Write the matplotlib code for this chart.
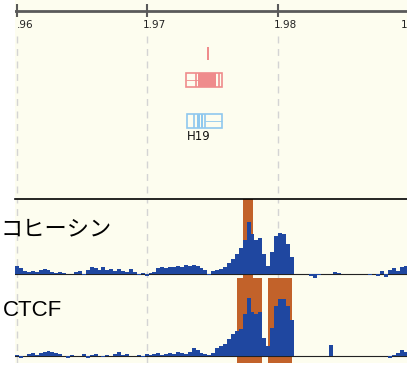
import numpy as np
import matplotlib.pyplot as plt
from matplotlib.patches import Rectangle

# genomic window (Mb) and ruler
x_min, x_max = 1.959885, 1.989866
ruler_ticks = [1.96, 1.97, 1.98, 1.99]
ruler_labels = [".96", "1.97", "1.98", "1"]
label_shift = [0, -4, -4, -8]  # pixels

# signal bins (Mb)
bin_start = 1.9599
bin_width = 0.0003

cohesin = [8, 6, 3, 2, 3, 2, 4, 5, 4, 2,
           1, 2, 1, 0, 0, 2, 3, -1, 4, 7,
           6, 4, 7, 4, 5, 3, 5, 3, 2, 5,
           2, -1, 1, -2, 1, 2, 6, 7, 6, 7,
           7, 8, 7, 9, 8, 9, 8, 6, 4, -1,
           3, 4, 5, 7, 11, 15, 20, 26, 34, 52,
           40, 34, 36, 20, 8, 22, 38, 41, 40, 30,
           17, 0, 0, 0, 0, -2, -4, -1, 0, 0,
           0, 2, 1, 0, 0, 0, 0, 0, 0, 0,
           -1, 0, -2, 3, -3, 4, 6, 3, 7, 8]

ctcf = [1, -2, 0, 2, 3, 1, 3, 4, 5, 4,
        3, 2, 0, -2, 1, 0, 0, 2, -2, 1,
        2, 0, -1, 1, 0, 2, 4, 1, 2, 0,
        0, 1, -1, 2, 1, 2, 3, 1, 2, 3,
        2, 4, 3, 2, 4, 8, 6, 3, 2, 1,
        3, 8, 10, 12, 17, 22, 25, 27, 42, 58,
        44, 42, 44, 18, 10, 28, 50, 57, 57, 50,
        36, 0, 0, 0, 0, 0, 0, 0, 0, 0,
        11, 0, 0, 0, 0, 0, 0, 0, 0, 0,
        0, 0, 0, 0, 0, -2, 1, 3, 6, 4]

# highlighted regions (Mb)
cohesin_peaks = [(1.977323, 1.978088)]
ctcf_peaks = [(1.976864, 1.978776), (1.979235, 1.981071)]

# gene models (Mb)
small_tx = (1.97457, 1.97472)
red_tx = (1.972963, 1.975717)
red_exons = [(1.973881, 1.975258)]
red_lines = [1.973728, 1.975488]
blue_tx = (1.973040, 1.975717)
blue_exons = [(1.973805, 1.974034), (1.974111, 1.974263)]
blue_lines = [1.973575, 1.974416]
gene_name = "H19"

cream = "#fdfdef"
sig_blue = "#1f47a0"
orange = "#c2622a"
red = "#ef8c8c"
lblue = "#8fc8ee"
grid_c = "#d4d4d4"

W, H = 407, 365
fig = plt.figure(figsize=(W / 100, H / 100), dpi=100)


def px_axes(x0, y0, x1, y1):
    return fig.add_axes([x0 / W, 1 - y1 / H, (x1 - x0) / W, (y1 - y0) / H])


# gene / ruler panel (y in pixel rows)
ax = px_axes(15, 0, 407, 199)
ax.set_xlim(x_min, x_max)
ax.set_ylim(199, 0)
ax.axis("off")
ax.add_patch(Rectangle((0, 0), 1, 1, transform=ax.transAxes, color=cream, zorder=0))
ax.axhline(10.5, color="#5a5a5a", lw=2)
ax.vlines(ruler_ticks, 4, 17, color="#5a5a5a", lw=1.5)
for t, lab, dx in zip(ruler_ticks, ruler_labels, label_shift):
    ax.annotate(lab, (t, 20), xytext=(dx, 0), textcoords="offset pixels",
                ha="left", va="top", fontsize=7.5, color="#222222",
                family=["Liberation Sans Narrow", "DejaVu Sans"], annotation_clip=False)
ax.vlines(ruler_ticks[:3], 36, 199, color=grid_c, lw=1, linestyles=(0, (5, 4)))

# small red transcript
ax.add_patch(Rectangle((small_tx[0], 47), small_tx[1] - small_tx[0], 13, color=red, lw=0))
# red transcript
ax.add_patch(Rectangle((red_tx[0], 73), red_tx[1] - red_tx[0], 14, fill=False, ec=red, lw=1.2))
for s, e in red_exons:
    ax.add_patch(Rectangle((s, 73), e - s, 14, color=red, lw=0))
ax.vlines(red_lines, 73, 87, color=red, lw=1.2)
ax.hlines(80, red_tx[0], red_exons[0][0], color=red, lw=0.6)
# blue transcript
ax.add_patch(Rectangle((blue_tx[0], 114), blue_tx[1] - blue_tx[0], 14, fill=False, ec=lblue, lw=1.2))
for s, e in blue_exons:
    ax.add_patch(Rectangle((s, 114), e - s, 14, color=lblue, lw=0))
ax.vlines(blue_lines, 114, 128, color=lblue, lw=1.2)
ax.hlines(121, blue_lines[1], blue_tx[1], color=lblue, lw=0.6)
ax.text(blue_tx[0], 130, gene_name, ha="left", va="top", fontsize=8.5, color="#111111",
        family=["Liberation Sans Narrow", "DejaVu Sans"])

edges = bin_start + bin_width * np.arange(len(cohesin) + 1)


def track(ax, values, peaks, ylim):
    ax.set_facecolor(cream)
    ax.set_xlim(x_min, x_max)
    ax.set_ylim(*ylim)
    for s, e in peaks:
        ax.axvspan(s, e, color=orange, lw=0, zorder=1)
    ax.axhline(0, color="#222222", lw=0.8, zorder=2)
    v = np.append(values, values[-1])
    ax.fill_between(edges, 0, v, step="post", color=sig_blue, lw=0, zorder=3)
    ax.set_xticks(ruler_ticks[:3])
    ax.grid(axis="x", color=grid_c, lw=1, linestyle=(0, (5, 4)), zorder=0)
    ax.set_axisbelow(True)
    ax.tick_params(length=0, labelbottom=False, labelleft=False)
    ax.set_yticks([])
    for sp in ax.spines.values():
        sp.set_visible(False)


ax_c = px_axes(15, 199, 407, 278)
track(ax_c, cohesin, cohesin_peaks, (-4, 75))
ax_c.spines["top"].set_visible(True)
ax_c.spines["top"].set_color("black")
ax_c.spines["top"].set_linewidth(1.2)

ax_t = px_axes(15, 278, 407, 363)
track(ax_t, ctcf, ctcf_peaks, (-7, 78))

fig.text(1 / W, 1 - 229 / H, "コヒーシン", ha="left", va="center", fontsize=16,
         family=["Noto Sans CJK JP", "DejaVu Sans"])
fig.text(3 / W, 1 - 311 / H, "CTCF", ha="left", va="center", fontsize=16,
         family=["Liberation Sans", "DejaVu Sans"])

fig.savefig("out.png", dpi=100)
